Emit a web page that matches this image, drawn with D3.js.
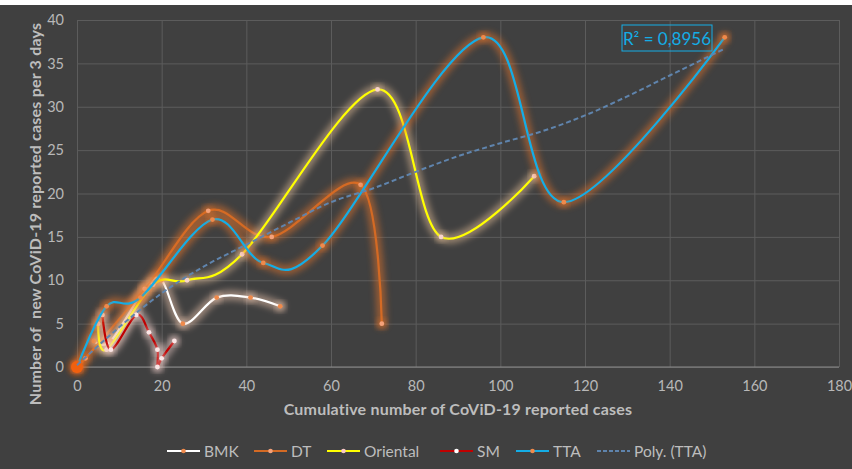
<!DOCTYPE html>
<html>
<head>
<meta charset="utf-8">
<script src="https://cdn.jsdelivr.net/npm/d3@7"></script>
<style>
  body { margin: 0; background: #fff; }
  svg { display: block; font-family: Lato, "Open Sans", sans-serif; }
</style>
</head>
<body>
<div id="chart"></div>
<script>
// values
var bmkX = [4, 8, 16, 20, 25, 33, 41, 48];
var bmkY = [3, 3, 9, 10, 5, 8, 8, 7];
var dtX = [0, 2, 16, 31, 46, 67, 72];
var dtY = [0, 1, 9, 18, 15, 21, 5];
var orientalX = [5, 7, 18, 26, 39, 71, 86, 108];
var orientalY = [5, 2, 9.5, 10, 13, 32, 15, 22];
var smX = [6, 8, 14, 17, 19, 19, 20, 23];
var smY = [6, 2, 6, 4, 2, 0, 1, 3];
var ttaX = [0, 7, 15, 32, 44, 58, 96, 115, 153];
var ttaY = [0, 7, 8, 17, 12, 14, 38, 19, 38];
// polynomial trendline (TTA)
var trendX = [0, 10, 20, 30, 40, 50, 60, 70, 80, 90, 100, 110, 120, 130, 140, 153];
var trendY = [0.2, 4.6, 8.5, 11.6, 14.1, 16.6, 19.0, 20.6, 22.5, 24.3, 25.8, 27.2, 29.0, 31.2, 33.6, 36.7];
var xTicks = [0, 20, 40, 60, 80, 100, 120, 140, 160, 180];
var yTicks = [0, 5, 10, 15, 20, 25, 30, 35, 40];

var width = 852, height = 469;
var margin = { top: 20, right: 13, bottom: 102, left: 77 };

var series = [
  { name: "BMK", xs: bmkX, ys: bmkY, color: "#ffffff", glow: "#f2c9b0", marker: "#f08a4b" },
  { name: "DT", xs: dtX, ys: dtY, color: "#d46a24", glow: "#e8762c", marker: "#f4a27a" },
  { name: "Oriental", xs: orientalX, ys: orientalY, color: "#ffff00", glow: "#e9c29a", marker: "#f8d4cc" },
  { name: "SM", xs: smX, ys: smY, color: "#c00000", glow: "#f3d0cc", marker: "#fbe6e6" },
  { name: "TTA", xs: ttaX, ys: ttaY, color: "#14ade6", glow: "#e8762c", marker: "#f08a4b" }
];

var svg = d3.select("#chart").append("svg")
    .attr("width", width).attr("height", height);

svg.append("rect").attr("x", 0).attr("y", 5).attr("width", width).attr("height", height - 5)
    .attr("fill", "#404040");

var defs = svg.append("defs");
defs.append("filter").attr("id", "glow")
    .attr("x", "-20%").attr("y", "-20%").attr("width", "140%").attr("height", "140%")
  .append("feGaussianBlur").attr("stdDeviation", 3);

var x = d3.scaleLinear().domain([0, 180]).range([margin.left, width - margin.right]);
var y = d3.scaleLinear().domain([0, 40]).range([height - margin.bottom, margin.top]);

// grid
svg.append("g")
    .attr("transform", "translate(0," + y(0) + ")")
    .call(d3.axisBottom(x).tickValues(xTicks).tickSize(-(y(0) - y(40))).tickFormat(""))
    .call(function (g) {
      g.select(".domain").remove();
      g.selectAll("line").attr("stroke", "#5c5c5c");
    });
svg.append("g")
    .attr("transform", "translate(" + x(0) + ",0)")
    .call(d3.axisLeft(y).tickValues(yTicks).tickSize(-(x(180) - x(0))).tickFormat(""))
    .call(function (g) {
      g.select(".domain").remove();
      g.selectAll("line").attr("stroke", "#5c5c5c");
    });
svg.append("line")
    .attr("x1", x(0)).attr("x2", x(180)).attr("y1", y(0)).attr("y2", y(0))
    .attr("stroke", "#8a8a8a");

// tick labels
svg.append("g")
    .attr("transform", "translate(0," + (y(0) + 11) + ")")
    .call(d3.axisBottom(x).tickValues(xTicks).tickSize(0))
    .call(function (g) {
      g.select(".domain").remove();
      g.selectAll("text").attr("fill", "#b8b8b8").style("font-size", "14.5px")
        .style("font-family", "Lato, sans-serif");
    });
svg.append("g")
    .attr("transform", "translate(" + (x(0) - 13) + ",0)")
    .call(d3.axisLeft(y).tickValues(yTicks).tickSize(0))
    .call(function (g) {
      g.select(".domain").remove();
      g.selectAll("text").attr("fill", "#b8b8b8").style("font-size", "14.5px")
        .style("font-family", "Lato, sans-serif").attr("x", 0);
    });

// axis titles
svg.append("text")
    .attr("x", 458).attr("y", 415)
    .attr("text-anchor", "middle")
    .attr("fill", "#bdbdbd").style("font-size", "16px").style("font-weight", "bold")
    .style("letter-spacing", "0.2px")
    .text("Cumulative number of CoViD-19 reported cases");
svg.append("text")
    .attr("transform", "translate(41,214) rotate(-90)")
    .attr("text-anchor", "middle")
    .attr("fill", "#bdbdbd").style("font-size", "16px").style("font-weight", "bold")
    .style("letter-spacing", "0.2px")
    .style("white-space", "pre")
    .text("Number of  new CoViD-19 reported cases per 3 days");

var line = d3.line()
    .x(function (d) { return x(d[0]); })
    .y(function (d) { return y(d[1]); })
    .curve(d3.curveCardinal.tension(0));

series.forEach(function (s) {
  var pts = s.xs.map(function (v, i) { return [v, s.ys[i]]; });
  var g = svg.append("g");
  g.append("path").datum(pts)
      .attr("d", line).attr("fill", "none")
      .attr("stroke", s.glow).attr("stroke-width", 10).attr("opacity", 0.5)
      .attr("stroke-linejoin", "round").attr("stroke-linecap", "round")
      .attr("filter", "url(#glow)");
  g.append("path").datum(pts)
      .attr("d", line).attr("fill", "none")
      .attr("stroke", s.color).attr("stroke-width", 2.2)
      .attr("stroke-linejoin", "round").attr("stroke-linecap", "round");
  g.selectAll("circle.glow").data(pts).enter().append("circle")
      .attr("cx", function (d) { return x(d[0]); })
      .attr("cy", function (d) { return y(d[1]); })
      .attr("r", 5).attr("fill", s.glow).attr("opacity", 0.5)
      .attr("filter", "url(#glow)");
  g.selectAll("circle.mk").data(pts).enter().append("circle")
      .attr("cx", function (d) { return x(d[0]); })
      .attr("cy", function (d) { return y(d[1]); })
      .attr("r", 2.4).attr("fill", s.marker);
});

// large marker at origin
svg.append("circle").attr("cx", x(dtX[0])).attr("cy", y(dtY[0])).attr("r", 8)
    .attr("fill", "#f06010").attr("opacity", 0.6).attr("filter", "url(#glow)");
svg.append("circle").attr("cx", x(dtX[0])).attr("cy", y(dtY[0])).attr("r", 6)
    .attr("fill", "#f0600f");

// polynomial trendline
var trendPts = trendX.map(function (v, i) { return [v, trendY[i]]; });
svg.append("path").datum(trendPts)
    .attr("d", d3.line().x(function (d) { return x(d[0]); }).y(function (d) { return y(d[1]); })
      .curve(d3.curveMonotoneX))
    .attr("fill", "none").attr("stroke", "#5f84ad").attr("stroke-width", 2)
    .attr("stroke-dasharray", "5,3");

// R squared label
svg.append("rect").attr("x", 622).attr("y", 25).attr("width", 90).attr("height", 26)
    .attr("fill", "none").attr("stroke", "#14ade6").attr("stroke-width", 1);
svg.append("text").attr("x", 667).attr("y", 44.5)
    .attr("text-anchor", "middle")
    .attr("fill", "#14ade6").style("font-size", "17px")
    .text("R² = 0,8956");

// legend
var legendItems = [
  { name: "BMK", color: "#ffffff", marker: "#f08a4b", x: 167 },
  { name: "DT", color: "#d46a24", marker: "#f4a27a", x: 254 },
  { name: "Oriental", color: "#ffff00", marker: "#f8c8c8", x: 327 },
  { name: "SM", color: "#c00000", marker: "#ffffff", x: 440 },
  { name: "TTA", color: "#14ade6", marker: "#f08a4b", x: 516 },
  { name: "Poly. (TTA)", color: "#5f84ad", marker: null, x: 597 }
];
var legend = svg.append("g").attr("transform", "translate(0,451)");
legendItems.forEach(function (d) {
  legend.append("line").attr("x1", d.x).attr("x2", d.x + 33).attr("y1", 0).attr("y2", 0)
      .attr("stroke", d.color).attr("stroke-width", 2)
      .attr("stroke-dasharray", d.marker ? null : "4,2");
  if (d.marker) {
    legend.append("circle").attr("cx", d.x + 16.5).attr("cy", 0).attr("r", 2.3).attr("fill", d.marker);
  }
  legend.append("text").attr("x", d.x + 37).attr("y", 5.5)
      .attr("fill", "#bdbdbd").style("font-size", "15.5px")
      .text(d.name);
});
</script>
</body>
</html>
